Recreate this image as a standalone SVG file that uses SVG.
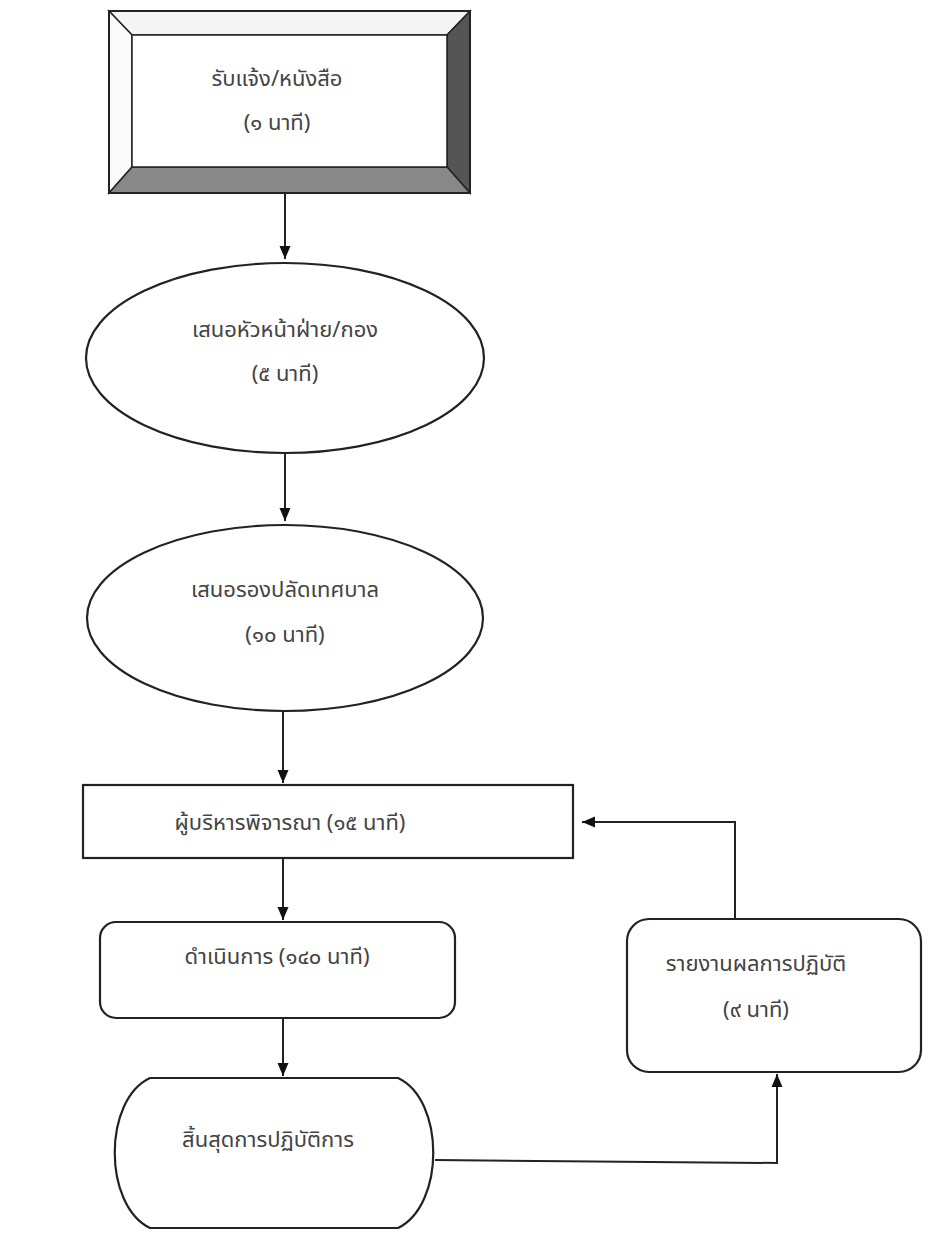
<svg xmlns="http://www.w3.org/2000/svg" width="928" height="1239" viewBox="0 0 928 1239">
<defs>
<marker id="ah" markerWidth="14" markerHeight="14" refX="13" refY="7" orient="auto" markerUnits="userSpaceOnUse">
<path d="M0,1.5 L13,7 L0,12.5 Z" fill="#111"/>
</marker>
<style>
.sh{fill:#fff;stroke:#222;stroke-width:2.2}
.t{font-family:"Noto Sans Thai","Noto Sans","DejaVu Sans",sans-serif;font-size:22px;fill:#444;text-anchor:middle}
.c{fill:none;stroke:#222;stroke-width:2}
</style>
</defs>
<rect width="928" height="1239" fill="#fff"/>
<g id="n1">
<polygon points="109,11 470,11 447,35 132,35" fill="#f4f4f4" stroke="#222" stroke-width="1.5"/>
<polygon points="109,11 132,35 132,167 109,193" fill="#fafafa" stroke="#222" stroke-width="1.5"/>
<polygon points="470,11 470,193 447,167 447,35" fill="#555" stroke="#222" stroke-width="1.5"/>
<polygon points="109,193 470,193 447,167 132,167" fill="#888" stroke="#222" stroke-width="1.5"/>
<rect x="132" y="35" width="315" height="132" fill="#fff" stroke="#222" stroke-width="1.5"/>
<rect x="109" y="11" width="361" height="182" fill="none" stroke="#222" stroke-width="2"/>
<text class="t" x="277" y="86">รับแจ้ง/หนังสือ</text>
<text class="t" x="277" y="130">(๑ นาที)</text>
</g>
<g id="n2">
<ellipse class="sh" cx="285" cy="358" rx="199" ry="95"/>
<text class="t" x="285" y="337">เสนอหัวหน้าฝ่าย/กอง</text>
<text class="t" x="285" y="381">(๕ นาที)</text>
</g>
<g id="n3">
<ellipse class="sh" cx="285" cy="618" rx="198" ry="93"/>
<text class="t" x="285" y="597">เสนอรองปลัดเทศบาล</text>
<text class="t" x="285" y="642">(๑๐ นาที)</text>
</g>
<g id="n4">
<rect class="sh" x="83" y="785" width="490" height="73"/>
<text class="t" x="290" y="830">ผู้บริหารพิจารณา (๑๕ นาที)</text>
</g>
<g id="n5">
<rect class="sh" x="100" y="922" width="355" height="96" rx="16"/>
<text class="t" x="277" y="964">ดำเนินการ (๑๔๐ นาที)</text>
</g>
<g id="n6">
<path class="sh" d="M150,1078 L398,1078 C445,1100 445,1205 398,1228 L150,1228 C103,1205 103,1100 150,1078 Z"/>
<text class="t" x="268" y="1147">สิ้นสุดการปฏิบัติการ</text>
</g>
<g id="n7">
<rect class="sh" x="627" y="919" width="294" height="153" rx="22"/>
<text class="t" x="756" y="971">รายงานผลการปฏิบัติ</text>
<text class="t" x="756" y="1017">(๙ นาที)</text>
</g>
<g id="connectors">
<line class="c" x1="285" y1="193" x2="285" y2="259" marker-end="url(#ah)"/>
<line class="c" x1="285" y1="453" x2="285" y2="521" marker-end="url(#ah)"/>
<line class="c" x1="283" y1="711" x2="283" y2="783" marker-end="url(#ah)"/>
<line class="c" x1="283" y1="858" x2="283" y2="920" marker-end="url(#ah)"/>
<line class="c" x1="283" y1="1018" x2="283" y2="1076" marker-end="url(#ah)"/>
<polyline class="c" points="435,1160 777,1163 777,1074" marker-end="url(#ah)"/>
<polyline class="c" points="735,919 735,822 582,822" marker-end="url(#ah)"/>
</g>
</svg>
